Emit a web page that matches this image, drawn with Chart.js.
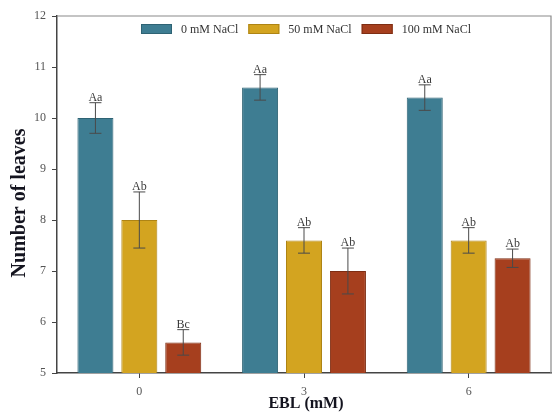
<!DOCTYPE html>
<html>
<head>
<meta charset="utf-8">
<script src="https://cdn.jsdelivr.net/npm/chart.js@4"></script>
<style>
  html, body { margin: 0; padding: 0; background: #fff; }
  #wrap { width: 553px; height: 413px; }
</style>
</head>
<body>
<div id="wrap"><canvas id="c" width="553" height="413"></canvas></div>
<script>
// EBL treatment levels (mM)
const ebl = ['0', '3', '6'];

// Mean number of leaves per NaCl level
const nacl0 = [10.0, 10.6, 10.4];
const nacl50 = [8.0, 7.6, 7.6];
const nacl100 = [5.6, 7.0, 7.25];

// Standard errors
const err0 = [0.3, 0.25, 0.25];
const err50 = [0.55, 0.25, 0.25];
const err100 = [0.25, 0.45, 0.18];

// Significance letters
const sig0 = ['Aa', 'Aa', 'Aa'];
const sig50 = ['Ab', 'Ab', 'Ab'];
const sig100 = ['Bc', 'Ab', 'Ab'];

const seriesNames = ['0 mM NaCl', '50 mM NaCl', '100 mM NaCl'];
const yTicks = [5, 6, 7, 8, 9, 10, 11, 12];

const SERIF = '"Liberation Serif", "Times New Roman", serif';
const fills = ['#3E7D92', '#D3A420', '#A63F1E'];
const edges = ['#2E6374', '#AE8414', '#7E2D13'];

const errors = [err0, err50, err100];
const letters = [sig0, sig50, sig100];

// Frame on the top and right sides of the plot area
const framePlugin = {
  id: 'frame',
  beforeDatasetsDraw(chart) {
    const { ctx, chartArea: a } = chart;
    ctx.save();
    ctx.strokeStyle = '#8a8a8a';
    ctx.lineWidth = 1.2;
    ctx.beginPath();
    ctx.moveTo(a.left, a.top);
    ctx.lineTo(a.right, a.top);
    ctx.lineTo(a.right, a.bottom);
    ctx.stroke();
    ctx.restore();
  }
};

// Error bars with caps and letters above them
const errorPlugin = {
  id: 'errbars',
  afterDatasetsDraw(chart) {
    const { ctx } = chart;
    const y = chart.scales.y;
    ctx.save();
    chart.data.datasets.forEach((ds, di) => {
      const meta = chart.getDatasetMeta(di);
      meta.data.forEach((bar, i) => {
        const v = ds.data[i];
        const e = errors[di][i];
        const yt = y.getPixelForValue(v + e);
        const yb = y.getPixelForValue(v - e);
        const x = bar.x;
        ctx.strokeStyle = '#4a4a4a';
        ctx.lineWidth = 1;
        ctx.beginPath();
        ctx.moveTo(x, yt); ctx.lineTo(x, yb);
        ctx.moveTo(x - 6, yt); ctx.lineTo(x + 6, yt);
        ctx.moveTo(x - 6, yb); ctx.lineTo(x + 6, yb);
        ctx.stroke();
        ctx.fillStyle = '#3a3a3a';
        ctx.font = '12px ' + SERIF;
        ctx.textAlign = 'center';
        ctx.textBaseline = 'alphabetic';
        ctx.fillText(letters[di][i], x, yt - 2);
      });
    });
    ctx.restore();
  }
};

// Legend row inside the top of the plot area, and axis titles
const annotPlugin = {
  id: 'annot',
  afterDraw(chart) {
    const { ctx, chartArea: a } = chart;
    ctx.save();
    ctx.font = '12px ' + SERIF;
    const boxW = 31, boxH = 10, gapText = 9, gapItem = 10;
    const widths = chart.data.datasets.map(d => ctx.measureText(d.label).width);
    let total = 0;
    widths.forEach((w, i) => { total += boxW + gapText + w + (i < widths.length - 1 ? gapItem : 0); });
    let x = (a.left + a.right) / 2 - total / 2 + 2;
    const cy = 29;
    chart.data.datasets.forEach((d, i) => {
      ctx.fillStyle = d.backgroundColor;
      ctx.fillRect(x, cy - boxH / 2, boxW, boxH);
      ctx.strokeStyle = d.borderColor;
      ctx.lineWidth = 1;
      ctx.strokeRect(x + 0.5, cy - boxH / 2 + 0.5, boxW - 1, boxH - 1);
      x += boxW + gapText;
      ctx.fillStyle = '#333';
      ctx.textAlign = 'left';
      ctx.textBaseline = 'middle';
      ctx.fillText(d.label, x, cy + 1);
      x += widths[i] + gapItem;
    });

    // Axis titles
    ctx.fillStyle = '#14141f';
    ctx.textAlign = 'center';
    ctx.textBaseline = 'middle';
    ctx.font = 'bold 16px ' + SERIF;
    ctx.fillText('EBL (mM)', (a.left + a.right) / 2 + 2, 404);
    ctx.font = 'bold 20px ' + SERIF;
    ctx.translate(20, 203);
    ctx.rotate(-Math.PI / 2);
    ctx.fillText('Number of leaves', 0, 0);
    ctx.restore();
  }
};

const makeSet = (label, data, i) => ({
  label,
  data,
  backgroundColor: fills[i],
  borderColor: edges[i],
  borderWidth: 1,
  barPercentage: 0.82,
  categoryPercentage: 0.8
});

new Chart(document.getElementById('c'), {
  type: 'bar',
  data: {
    labels: ebl,
    datasets: [
      makeSet(seriesNames[0], nacl0, 0),
      makeSet(seriesNames[1], nacl50, 1),
      makeSet(seriesNames[2], nacl100, 2)
    ]
  },
  options: {
    responsive: false,
    animation: false,
    devicePixelRatio: 1,
    layout: { padding: { left: 0, right: 2, top: 16, bottom: 0 } },
    plugins: {
      legend: { display: false },
      tooltip: { enabled: false }
    },
    scales: {
      x: {
        offset: true,
        grid: { offset: false, drawOnChartArea: false, drawTicks: true, tickLength: 5, color: '#444', lineWidth: 1 },
        border: { display: true, color: '#444', width: 1.5 },
        ticks: { color: '#555', padding: 7, font: { family: SERIF, size: 12 } },
        afterFit(s) { s.height = 40; }
      },
      y: {
        min: 5,
        max: 12,
        afterBuildTicks(s) { s.ticks = yTicks.map(v => ({ value: v })); },
        grid: { drawOnChartArea: false, drawTicks: true, tickLength: 5, color: '#444', lineWidth: 1 },
        border: { display: true, color: '#444', width: 1.5 },
        ticks: { color: '#555', padding: 6, font: { family: SERIF, size: 12 } },
        afterFit(s) { s.width = 57; }
      }
    }
  },
  plugins: [framePlugin, errorPlugin, annotPlugin]
});
</script>
</body>
</html>
